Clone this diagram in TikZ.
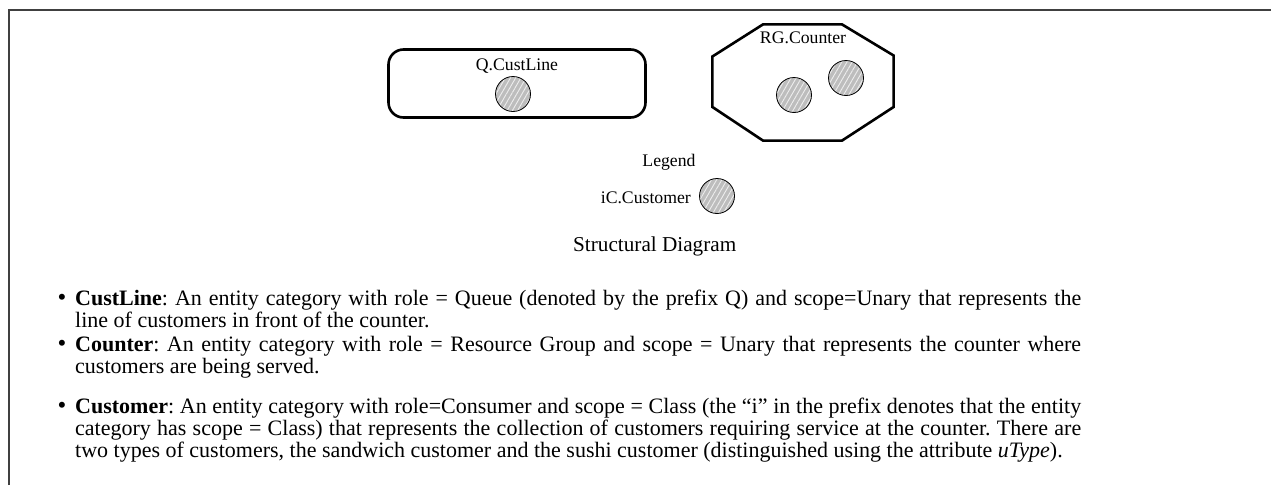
\documentclass[tikz,border=0pt]{standalone}
\usepackage{fontspec}
\setmainfont{Liberation Serif}
\usetikzlibrary{patterns.meta}
\definecolor{hatchgray}{HTML}{BDBDBD}
\definecolor{hatchwhite}{HTML}{EDEDED}
\definecolor{framecol}{HTML}{404040}
\newcommand{\nosh}{\spaceskip=\fontdimen2\font plus 0.3em\relax\hyphenpenalty=10000 \exhyphenpenalty=10000 \tolerance=10000 \frenchspacing}
\begin{document}
\begin{tikzpicture}[x=1pt,y=-1pt,
  entity/.style={circle, draw=black, line width=0.8pt, minimum size=35pt, inner sep=0pt,
    preaction={fill=hatchgray}, pattern={Lines[angle=60,distance=4.5pt,line width=0.9pt]}, pattern color=hatchwhite},
  lbl/.style={font=\fontsize{17.7}{20}\selectfont, inner sep=0pt},
  bodytext/.style={font=\fontsize{22}{22}\selectfont\nosh, inner sep=0pt, text width=1006pt, align=justify, anchor=base west},
  bul/.style={font=\fontsize{25}{22}\selectfont, inner sep=0pt, anchor=base},
  container/.style={draw=black, line width=2.6pt}
]
\useasboundingbox (0,0) rectangle (1271,485);
\fill[white] (0,0) rectangle (1271,485);
\draw[framecol, line width=2pt] (9,485) -- (9,10) -- (1271,10);

% Queue container
\node[container, rectangle, rounded corners=15pt, minimum width=257pt, minimum height=68pt, inner sep=0pt] (custline) at (517,83.5) {};
\node[lbl, anchor=base] (qlabel) at (517,70) {Q.CustLine};
\node[entity] (qc) at (513,94) {};

% Resource group container
\draw[container] (763,24.4) -- (842,24.4) -- (893.6,55.5) -- (893.6,107) -- (842,140.6) -- (763,140.6) -- (712.4,107) -- (712.4,56.5) -- cycle;
\node[lbl, anchor=base] (rglabel) at (803,43) {RG.Counter};
\node[entity] (rc1) at (794,95) {};
\node[entity] (rc2) at (846,78) {};

% Legend
\node[lbl, anchor=base] (legend) at (669,166) {Legend};
\node[lbl, anchor=base east] (iclabel) at (691,203) {iC.Customer};
\node[entity] (lc) at (717,196) {};

% Caption
\node[font=\fontsize{21.2}{24}\selectfont, inner sep=0pt, anchor=base west] (caption) at (573,251) {Structural Diagram};

% Bullets
\node[bul] (b1) at (62,305) {•};
\node[bodytext] (t1) at (75,305) {\textbf{CustLine}: An entity category with role = Queue (denoted by the prefix Q) and scope=Unary that represents the line of customers in front of the counter.};
\node[bul] (b2) at (62,351) {•};
\node[bodytext] (t2) at (75,351) {\textbf{Counter}: An entity category with role = Resource Group and scope = Unary that represents the counter where customers are being served.};
\node[bul] (b3) at (62,413) {•};
\node[bodytext] (t3) at (75,413) {\textbf{Customer}: An entity category with role=Consumer and scope = Class (the “i" in the prefix denotes that the entity category has scope = Class) that represents the collection of customers requiring service at the counter. There are two types of customers, the sandwich customer and the sushi customer (distinguished using the attribute \textit{uType}).};
\end{tikzpicture}
\end{document}
